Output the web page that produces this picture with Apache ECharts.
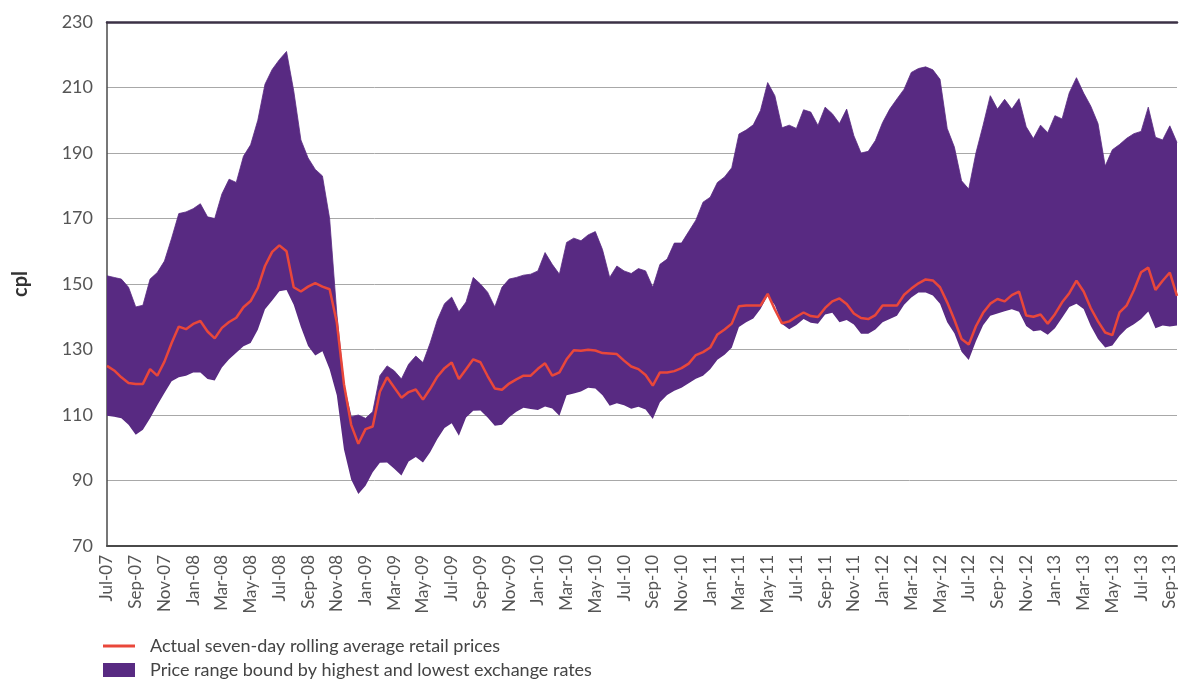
<!DOCTYPE html>
<html>
<head>
<meta charset="utf-8">
<script src="https://cdn.jsdelivr.net/npm/echarts@6/dist/echarts.min.js"></script>
<style>
html,body{margin:0;padding:0;background:#fff;}
#chart{width:1183px;height:686px;}
</style>
</head>
<body>
<div id="chart"></div>
<script>
// Month labels (one per month), each month carries two data points (1st and mid-month)
const monthLabels = [
 "Jul-07","Aug-07","Sep-07","Oct-07","Nov-07","Dec-07",
 "Jan-08","Feb-08","Mar-08","Apr-08","May-08","Jun-08","Jul-08","Aug-08","Sep-08","Oct-08","Nov-08","Dec-08",
 "Jan-09","Feb-09","Mar-09","Apr-09","May-09","Jun-09","Jul-09","Aug-09","Sep-09","Oct-09","Nov-09","Dec-09",
 "Jan-10","Feb-10","Mar-10","Apr-10","May-10","Jun-10","Jul-10","Aug-10","Sep-10","Oct-10","Nov-10","Dec-10",
 "Jan-11","Feb-11","Mar-11","Apr-11","May-11","Jun-11","Jul-11","Aug-11","Sep-11","Oct-11","Nov-11","Dec-11",
 "Jan-12","Feb-12","Mar-12","Apr-12","May-12","Jun-12","Jul-12","Aug-12","Sep-12","Oct-12","Nov-12","Dec-12",
 "Jan-13","Feb-13","Mar-13","Apr-13","May-13","Jun-13","Jul-13","Aug-13","Sep-13"
];

// Upper bound of price range (highest exchange rate), cpl, semi-monthly
const upperBound = [
 152.5,152,151.5,149,143,143.5,151.5,153.5,157,164,171.5,172,173,174.5,170.5,170,177.5,182,181,189,
 192.5,200,211,215.5,218.5,221,209,194,188.5,185,183,170,141,119,109.5,110,109,111,122,125,
 123.5,121,125.5,128,126,132,139,144,146,141.5,144.5,152,150,147.5,143,149,151.5,152,152.7,153,
 154,159.6,156,153,162.7,164,163.2,165,166,160.5,152,155.5,154,153.2,154.7,154,149,156,157.6,162.5,
 162.5,166,169.5,175,176.5,181,182.7,185.5,195.8,197,198.6,203,211.5,207.5,197.7,198.5,197.5,203.2,202.5,198.4,
 204,202,199,203.4,195.3,190,190.5,193.8,199.3,203.4,206.5,209.5,214.6,215.8,216.3,215.4,212.5,197.5,191.8,181.5,
 179,190,198.5,207.5,203.4,206.4,203.4,206.6,198,194.4,198.5,196.2,201.4,200.4,208.4,213,208.3,204.3,199,186,
 191,192.6,194.5,195.9,196.6,204,194.8,194,198.3,193.2
];

// Lower bound of price range (lowest exchange rate), cpl, semi-monthly
const lowerBound = [
 109.8,109.5,109,107,104,105.5,109,113,116.7,120.3,121.5,122,123,123,121,120.5,124.5,127,129,131,
 132,136,142.3,145,147.8,148.2,143.7,136.9,131.1,128.2,129.5,124,116,99.5,90.3,85.9,88.4,92.5,95.4,95.5,
 93.6,91.5,95.8,97.2,95.5,98.6,102.7,106,107.5,103.7,109.2,111.3,111.4,109.2,106.7,107,109.3,111,112.2,111.8,
 111.5,112.6,112,109.8,116,116.6,117.2,118.3,118.1,116,112.8,113.6,113,111.9,112.5,111.7,108.8,113.9,116.1,117.4,
 118.3,119.7,121.1,122,124,126.9,128.4,130.5,136.9,138.3,139.5,142.4,146.4,143.5,137.8,136.2,137.5,139.3,138.2,137.9,
 140.7,141.2,138.3,139,137.6,134.8,134.8,136.1,138.3,139.3,140.3,143.7,145.9,147.4,147.4,146.5,144,138.3,135,129.3,
 126.8,132.5,137.4,140.3,141,141.7,142.3,141.5,137.2,135.6,135.9,134.5,136.5,139.7,143,144,142.4,137.2,133.2,130.6,
 131.2,134.2,136.4,137.7,139.3,141.6,136.5,137.3,137,137.3
];

// Actual seven-day rolling average retail prices, cpl, semi-monthly
const actualPrice = [
 125,123.6,121.5,119.8,119.5,119.5,124,122,126.3,132,137,136.2,137.8,138.7,135.5,133.4,136.6,138.4,139.7,142.9,
 144.8,148.8,155.5,159.8,161.8,160,149,147.7,149.2,150.3,149.2,148.4,138.3,119.4,107,101.2,105.7,106.5,117.1,121.5,
 118.4,115.3,117,117.8,114.7,118,121.7,124.3,126,121,124,127,126.1,121.9,118.1,117.7,119.6,120.9,122,122,
 124.1,125.8,122,123,127,129.8,129.6,129.9,129.7,128.9,128.8,128.6,126.6,124.8,124,122.2,119,123,123,123.4,
 124.3,125.7,128.3,129.2,130.6,134.6,136.1,137.9,143.2,143.4,143.4,143.4,147,142.2,138,138.6,140,141.3,140.2,139.9,
 142.7,144.7,145.6,143.9,141,139.6,139.3,140.5,143.4,143.4,143.4,146.7,148.6,150.2,151.4,151.1,149,144.4,139.1,133.2,
 131.5,137.1,141.2,144,145.4,144.7,146.6,147.7,140.4,140,140.7,137.9,140.8,144.4,147.2,151,147.7,142.6,138.6,135.2,
 134.4,141.3,143.5,148.1,153.6,155,148.2,151,153.5,146.4
];

const yTicks = { min: 70, max: 230, interval: 20 };
const nameActual = "Actual seven-day rolling average retail prices";
const nameRange = "Price range bound by highest and lowest exchange rates";

const categories = [];
monthLabels.forEach(function (m) { categories.push(m); categories.push(m + " mid"); });
const rangeWidth = upperBound.map(function (u, i) { return +(u - lowerBound[i]).toFixed(2); });

const PURPLE = "#582a82";
const RED = "#e9473a";
const FONT = "Lato, 'Open Sans', sans-serif";

const chart = echarts.init(document.getElementById("chart"), null, { renderer: "canvas" });
chart.setOption({
  animation: false,
  backgroundColor: "#ffffff",
  grid: { left: 107, right: 6, top: 22, bottom: 140, containLabel: false },
  legend: [
    {
      left: 103,
      top: 637,
      padding: 0,
      itemWidth: 32,
      itemHeight: 3,
      icon: "rect",
      selectedMode: false,
      textStyle: { fontFamily: FONT, fontSize: 18, color: "#444", padding: [0, 0, 0, 10] },
      data: [nameActual]
    },
    {
      left: 103,
      top: 661,
      padding: 0,
      itemWidth: 32,
      itemHeight: 14,
      icon: "rect",
      selectedMode: false,
      textStyle: { fontFamily: FONT, fontSize: 18, color: "#444", padding: [0, 0, 0, 10] },
      data: [nameRange]
    }
  ],
  xAxis: [
    {
      type: "category",
      data: categories,
      boundaryGap: false,
      axisLine: { show: true, lineStyle: { color: "#4a4a4a", width: 2 } },
      axisTick: { show: false },
      splitLine: { show: false },
      axisLabel: {
        rotate: 90,
        interval: function (index) { return index % 4 === 0; },
        formatter: function (v) { return v.split(" ")[0]; },
        fontFamily: FONT,
        fontSize: 17,
        color: "#555",
        margin: 9
      }
    },
    {
      type: "category",
      data: categories,
      boundaryGap: false,
      position: "top",
      axisLine: { show: true, lineStyle: { color: "#3b3145", width: 2.5 } },
      axisTick: { show: false },
      axisLabel: { show: false },
      splitLine: { show: false }
    }
  ],
  yAxis: {
    type: "value",
    min: yTicks.min,
    max: yTicks.max,
    interval: yTicks.interval,
    name: "cpl",
    nameLocation: "middle",
    nameGap: 76,
    nameRotate: 90,
    nameTextStyle: { fontFamily: FONT, fontSize: 20, fontWeight: "bold", color: "#333" },
    axisLine: { show: true, lineStyle: { color: "#4a4a4a", width: 1.5 } },
    axisTick: { show: false },
    axisLabel: { fontFamily: FONT, fontSize: 18, color: "#555", margin: 14 },
    splitLine: { show: true, lineStyle: { color: "#a8a8a8", width: 1 } }
  },
  series: [
    {
      name: "lowerBase",
      type: "line",
      data: lowerBound,
      stack: "range",
      symbol: "none",
      lineStyle: { width: 0, opacity: 0 },
      silent: true,
      z: 2
    },
    {
      name: nameRange,
      type: "line",
      data: rangeWidth,
      stack: "range",
      symbol: "none",
      lineStyle: { width: 0.8, color: PURPLE },
      itemStyle: { color: PURPLE },
      areaStyle: { color: PURPLE, opacity: 1 },
      z: 3
    },
    {
      name: nameActual,
      type: "line",
      data: actualPrice,
      symbol: "none",
      lineStyle: { width: 2.5, color: RED },
      itemStyle: { color: RED },
      z: 4
    }
  ]
});
</script>
</body>
</html>
